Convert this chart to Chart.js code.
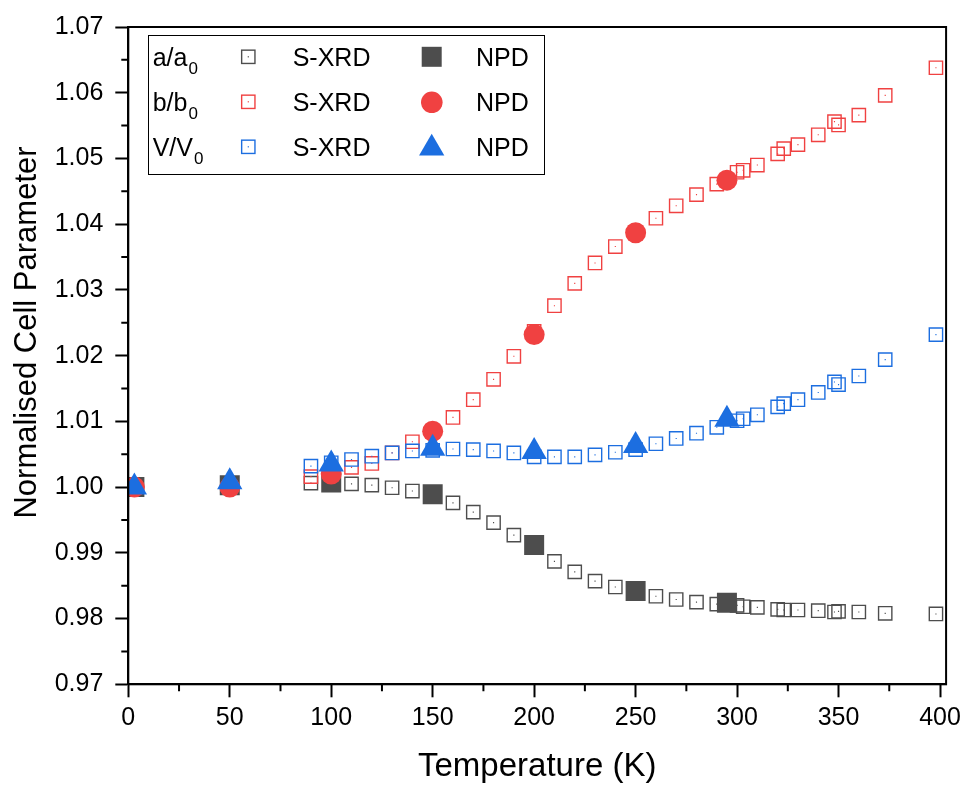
<!DOCTYPE html>
<html><head><meta charset="utf-8">
<script src="https://cdn.jsdelivr.net/npm/chart.js@4/dist/chart.umd.min.js"></script>
<style>html,body{margin:0;padding:0;background:#fff;} canvas{display:block;}</style>
</head><body>
<canvas id="c" width="967" height="787"></canvas>
<script>
// ---- data ----
const xrdTemps = [90,100,110,120,130,140,150,160,170,180,190,200,210,220,230,240,250,260,270,280,290,300,303,310,320,323,330,340,348,350,360,373,398];
const xrdA = [1.0006,1.0006,1.0005,1.0003,0.9999,0.9994,0.9988,0.9976,0.9962,0.9946,0.9927,0.9913,0.9887,0.9871,0.9857,0.9848,0.9842,0.9834,0.9829,0.9825,0.9822,0.9820,0.9818,0.9817,0.9814,0.9813,0.9813,0.9812,0.9810,0.9811,0.9810,0.9808,0.9807];
const xrdB = [1.0016,1.0021,1.0030,1.0036,1.0052,1.0069,1.0085,1.0106,1.0133,1.0164,1.0199,1.0237,1.0276,1.0310,1.0341,1.0366,1.0387,1.0409,1.0428,1.0445,1.0461,1.0479,1.0482,1.0490,1.0507,1.0515,1.0521,1.0536,1.0556,1.0551,1.0566,1.0596,1.0638];
const xrdV = [1.0032,1.0037,1.0042,1.0047,1.0052,1.0055,1.0056,1.0058,1.0057,1.0055,1.0052,1.0046,1.0046,1.0046,1.0049,1.0053,1.0057,1.0066,1.0074,1.0082,1.0091,1.0101,1.0104,1.0110,1.0122,1.0127,1.0133,1.0144,1.0160,1.0156,1.0169,1.0194,1.0232];
const npdTemps = [3,50,100,150,200,250,295];
const npdA = [1.0000,1.0003,1.0007,0.9989,0.9912,0.9842,0.9824];
const npdB = [1.0000,1.0000,1.0020,1.0085,1.0232,1.0387,1.0467];
const npdV = [1.0000,1.0008,1.0035,1.0059,1.0054,1.0063,1.0103];
const xTicks = [0,50,100,150,200,250,300,350,400];
const yTicks = [0.97,0.98,0.99,1.00,1.01,1.02,1.03,1.04,1.05,1.06,1.07];
const xMinorTicks = [25,75,125,175,225,275,325,375];
const yMinorTicks = [0.975,0.985,0.995,1.005,1.015,1.025,1.035,1.045,1.055,1.065];
const xTitle = 'Temperature (K)';
const yTitle = 'Normalised Cell Parameter';
const legendRows = [
  {main:'a/a', sub:'0', method1:'S-XRD', method2:'NPD'},
  {main:'b/b', sub:'0', method1:'S-XRD', method2:'NPD'},
  {main:'V/V', sub:'0', method1:'S-XRD', method2:'NPD'}
];

const FONT = "'Liberation Sans', Arial, sans-serif";
const C_A = '#4d4d4d', C_B = '#f04141', C_V = '#1c6ee0';
const pts = (xs, ys) => xs.map((x, i) => ({x: x, y: ys[i]}));

const openSq = (label, ys, col, order) => ({
  label: label, data: pts(xrdTemps, ys), showLine: false, order: order,
  pointStyle: 'rect', pointRadius: 9.4, pointHoverRadius: 9.4,
  pointBackgroundColor: 'rgba(0,0,0,0)', pointBorderColor: col, pointBorderWidth: 1.4
});
const dotSq = (label, ys, col, order) => ({
  label: label, data: pts(xrdTemps, ys), showLine: false, order: order,
  pointStyle: 'rect', pointRadius: 0.8, pointHoverRadius: 0.8,
  pointBackgroundColor: col, pointBorderColor: col, pointBorderWidth: 0
});
const filled = (label, ys, col, style, r, order) => ({
  label: label, data: pts(npdTemps, ys), showLine: false, order: order,
  pointStyle: style, pointRadius: r, pointHoverRadius: r,
  pointBackgroundColor: col, pointBorderColor: col, pointBorderWidth: 0
});

const decor = {
  id: 'decor',
  afterDraw(chart) {
    const ctx = chart.ctx, a = chart.chartArea;
    const xs = chart.scales.x, ys = chart.scales.y;
    ctx.save();
    ctx.strokeStyle = '#000';
    ctx.lineWidth = 2;
    ctx.strokeRect(a.left, a.top, a.right - a.left, a.bottom - a.top);
    // minor ticks
    ctx.beginPath();
    xMinorTicks.forEach(v => { const px = xs.getPixelForValue(v); ctx.moveTo(px, a.bottom); ctx.lineTo(px, a.bottom + 7); });
    yMinorTicks.forEach(v => { const py = ys.getPixelForValue(v); ctx.moveTo(a.left, py); ctx.lineTo(a.left - 7, py); });
    ctx.stroke();
    // y axis title
    ctx.save();
    ctx.translate(27.5, 332.5);
    ctx.rotate(-Math.PI / 2);
    ctx.fillStyle = '#000';
    ctx.font = '31px ' + FONT;
    ctx.textAlign = 'center';
    ctx.textBaseline = 'middle';
    ctx.fillText(yTitle, 0, 0);
    ctx.restore();
    // legend
    ctx.lineWidth = 1;
    ctx.strokeRect(148.5, 35.5, 396, 139);
    const cols = [C_A, C_B, C_V];
    legendRows.forEach((r, i) => {
      const cy = 56.8 + i * 45;
      const base = cy + 9.2;
      ctx.fillStyle = '#000';
      ctx.textBaseline = 'alphabetic';
      ctx.textAlign = 'left';
      ctx.font = '25px ' + FONT;
      ctx.fillText(r.main, 152.7, base);
      const w = ctx.measureText(r.main).width;
      ctx.fillText(r.method1, 292.7, base);
      ctx.fillText(r.method2, 476, base);
      ctx.font = '17px ' + FONT;
      ctx.fillText(r.sub, 152.7 + w + 1, base + 8);
      // open square
      ctx.strokeStyle = cols[i];
      ctx.lineWidth = 1.4;
      ctx.strokeRect(248.3 - 6.65, cy - 6.65, 13.3, 13.3);
      ctx.fillStyle = cols[i];
      ctx.fillRect(248.3 - 0.6, cy - 0.6, 1.2, 1.2);
      // filled marker
      ctx.beginPath();
      if (i === 0) {
        ctx.rect(431.7 - 10, cy - 10, 20, 20);
      } else if (i === 1) {
        ctx.arc(431.8, cy + 0.5, 10.8, 0, Math.PI * 2);
      } else {
        const r2 = 14.6, ccy = cy + 1.5;
        ctx.moveTo(431.7, ccy - r2);
        ctx.lineTo(431.7 + r2 * Math.sin(2 * Math.PI / 3), ccy - r2 * Math.cos(2 * Math.PI / 3));
        ctx.lineTo(431.7 + r2 * Math.sin(4 * Math.PI / 3), ccy - r2 * Math.cos(4 * Math.PI / 3));
        ctx.closePath();
      }
      ctx.fill();
    });
    ctx.restore();
  }
};

new Chart(document.getElementById('c'), {
  type: 'scatter',
  data: {
    datasets: [
      filled('a/a0 NPD', npdA, C_A, 'rect', 14.14, 2),
      filled('b/b0 NPD', npdB, C_B, 'circle', 10.5, 1),
      filled('V/V0 NPD', npdV, C_V, 'triangle', 14.6, 0),
      dotSq('a/a0 S-XRD centre', xrdA, C_A, 5),
      dotSq('b/b0 S-XRD centre', xrdB, C_B, 4),
      dotSq('V/V0 S-XRD centre', xrdV, C_V, 3),
      openSq('a/a0 S-XRD', xrdA, C_A, 5),
      openSq('b/b0 S-XRD', xrdB, C_B, 4),
      openSq('V/V0 S-XRD', xrdV, C_V, 3)
    ]
  },
  options: {
    responsive: false,
    animation: false,
    events: [],
    layout: {padding: {top: 25.7, right: 19.3, left: 0, bottom: 0}},
    plugins: {legend: {display: false}, tooltip: {enabled: false}},
    scales: {
      x: {
        type: 'linear', min: 0, max: 403,
        afterBuildTicks: s => { s.ticks = xTicks.map(v => ({value: v})); },
        afterFit: s => { s.height = 102.7; },
        ticks: {font: {family: FONT, size: 25}, color: '#000', padding: 6, maxRotation: 0, autoSkip: false},
        grid: {drawOnChartArea: false, drawTicks: true, tickLength: 13, tickWidth: 2, tickColor: '#000'},
        border: {display: true, color: '#000', width: 2},
        title: {display: true, text: xTitle, color: '#000', font: {family: FONT, size: 33, lineHeight: 1}, padding: {top: 0, bottom: 4}}
      },
      y: {
        type: 'linear', min: 0.97, max: 1.07,
        afterBuildTicks: s => { s.ticks = yTicks.map(v => ({value: v})); },
        afterFit: s => { s.width = 128.3; },
        ticks: {font: {family: FONT, size: 25}, color: '#000', padding: 12, autoSkip: false, callback: v => Number(v).toFixed(2)},
        grid: {drawOnChartArea: false, drawTicks: true, tickLength: 13, tickWidth: 2, tickColor: '#000'},
        border: {display: true, color: '#000', width: 2},
        title: {display: false}
      }
    }
  },
  plugins: [decor]
});
</script>
</body></html>
